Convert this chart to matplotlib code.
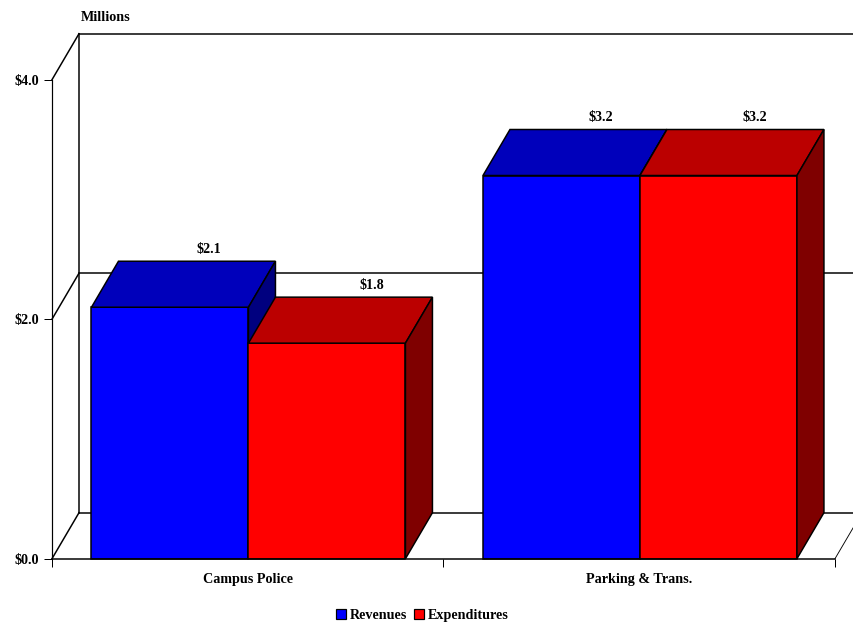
import matplotlib
matplotlib.use("Agg")
import matplotlib.pyplot as plt
from matplotlib.patches import Patch, Polygon

categories = ["Campus Police", "Parking & Trans."]
revenues = [2.1, 3.2]
expenditures = [1.8, 3.2]
value_ticks = [0, 2, 4]
value_labels = ["$0.0", "$2.0", "$4.0"]

plt.rcParams["font.family"] = ["Liberation Serif", "DejaVu Serif"]
plt.rcParams["font.weight"] = "bold"
plt.rcParams["font.size"] = 10.2

W, H = 854, 623
fig = plt.figure(figsize=(W / 100, H / 100), dpi=100, facecolor="white")
ax = fig.add_axes([52 / W, (H - 558.7) / H, 783 / W, 479 / H])
ax.set_xlim(0, 2)
ax.set_ylim(0, 4)
ax.patch.set_visible(False)

# Oblique projection of the depth axis, in data units
DX = 27 / 391.5
DY = 46 / 119.75
BAR_W = 0.401
GAP = 0.1008
PX = 0.72  # one pixel in points

# Back wall, floor and left wall
wall = dict(color="black", lw=1.5 * PX, clip_on=False, zorder=1, solid_capstyle="projecting")
ax.plot([DX, DX], [DY, 4 + DY], **wall)
for level in value_ticks:
    ax.plot([0, DX], [level, level + DY], **wall)
    ax.plot([DX, 2 + DX], [level + DY, level + DY], **wall)
ax.plot([2, 2 + DX], [0, DY], color="black", lw=0.9 * PX, clip_on=False, zorder=1)


def draw_bar(x0, value, front, top, side, z):
    x1 = x0 + BAR_W
    edge = dict(edgecolor="black", linewidth=1.5 * PX, joinstyle="miter", zorder=z, clip_on=False)
    ax.bar(x0, value, width=BAR_W, align="edge", color=front, **edge)
    ax.add_patch(Polygon([(x0, value), (x0 + DX, value + DY), (x1 + DX, value + DY), (x1, value)],
                         closed=True, facecolor=top, **edge))
    ax.add_patch(Polygon([(x1, 0), (x1 + DX, DY), (x1 + DX, value + DY), (x1, value)],
                         closed=True, facecolor=side, **edge))


def value_label(x0, value, shift):
    ax.annotate(f"${value:.1f}", xy=(x0 + BAR_W / 2, value), xytext=(shift * PX, 58 * PX),
                textcoords="offset points", ha="center", va="center", annotation_clip=False, zorder=20)


label_shift = [(38.5, 44.5), (39.5, 36.5)]
for i, (rev, exp) in enumerate(zip(revenues, expenditures)):
    left = i + GAP
    draw_bar(left, rev, "#0000ff", "#0000bb", "#00007f", 3 + 2 * i)
    draw_bar(left + BAR_W, exp, "#ff0000", "#bb0000", "#7f0000", 4 + 2 * i)
    value_label(left, rev, label_shift[i][0])
    value_label(left + BAR_W, exp, label_shift[i][1])

# Axes, ticks and category labels
for name in ("top", "right"):
    ax.spines[name].set_visible(False)
for name in ("left", "bottom"):
    ax.spines[name].set_zorder(15)
ax.spines["left"].set_linewidth(1.2 * PX)
ax.spines["bottom"].set_linewidth(1.5 * PX)

ax.set_yticks(value_ticks, value_labels)
ax.set_xticks([0, 1, 2], ["", "", ""])
ax.set_xticks([0.5, 1.5], categories, minor=True)
ax.tick_params(axis="both", which="major", length=8 * PX, width=1 * PX, pad=3.5)
ax.tick_params(axis="x", which="minor", length=0, pad=10.5)

fig.text(81 / W, 1 - 17.5 / H, "Millions", ha="left", va="center")

handles = [Patch(facecolor="#0000ff", edgecolor="black", linewidth=1.2 * PX, label="Revenues"),
           Patch(facecolor="#ff0000", edgecolor="black", linewidth=1.2 * PX, label="Expenditures")]
fig.legend(handles=handles, loc="center", bbox_to_anchor=(422 / W, 1 - 615.5 / H), ncol=2, frameon=False,
           handlelength=0.72, handleheight=0.75, handletextpad=0.25, columnspacing=0.5,
           borderpad=0, borderaxespad=0)

fig.savefig("out.png", dpi=100, facecolor="white")
